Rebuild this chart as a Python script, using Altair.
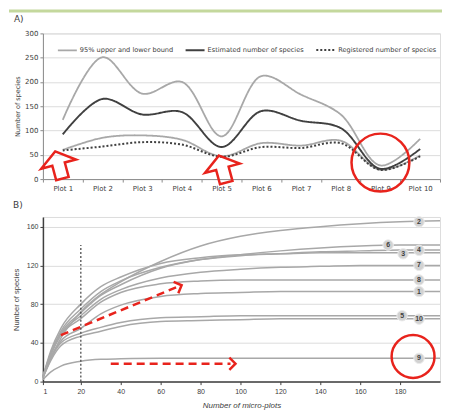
import altair as alt
import pandas as pd

# ---------------- Panel A data ----------------
plots = ["Plot 1", "Plot 2", "Plot 3", "Plot 4", "Plot 5",
         "Plot 6", "Plot 7", "Plot 8", "Plot 9", "Plot 10"]
upper = [122, 251, 176, 200, 88, 212, 174, 133, 28, 83]
estimated = [92, 165, 133, 138, 66, 140, 120, 105, 21, 62]
lower = [60, 85, 90, 81, 47, 74, 69, 79, 19, 49]
registered = [59, 67, 76, 71, 46, 66, 64, 74, 19, 47]
kinds = ["95% upper and lower bound", "Estimated number of species",
         "Registered number of species"]

# ---------------- Panel B data ----------------
micro_x = [1, 5, 10, 20, 30, 40, 60, 80, 100, 120, 140, 160, 180, 200]
curve_1 = [5, 25, 42, 55, 70, 79, 88, 91, 92, 93, 93, 93, 93, 93]
curve_2 = [4, 24, 45, 72, 90, 103, 124, 140, 150, 156, 160, 163, 165, 166]
curve_3 = [5, 32, 55, 80, 98, 108, 122, 128, 131, 132, 133, 133, 133, 133]
curve_4 = [5, 30, 52, 75, 93, 104, 118, 126, 130, 132, 134, 135, 136, 136]
curve_5 = [4, 24, 40, 50, 56, 61, 66, 67, 68, 68, 68, 68, 68, 68]
curve_6 = [5, 28, 50, 71, 89, 100, 117, 126, 131, 135, 138, 140, 141, 141]
curve_7 = [5, 28, 49, 68, 85, 95, 107, 113, 116, 118, 119, 120, 120, 120]
curve_8 = [5, 28, 48, 65, 82, 92, 101, 104, 105, 105, 105, 105, 105, 105]
curve_9 = [2, 10, 16, 21, 23, 23.5, 24, 24, 24, 24, 24, 24, 24, 24]
curve_10 = [4, 22, 37, 47, 52, 57, 62, 63, 64, 65, 65, 65, 65, 65]
curves = {"1": curve_1, "2": curve_2, "3": curve_3, "4": curve_4, "5": curve_5,
          "6": curve_6, "7": curve_7, "8": curve_8, "9": curve_9, "10": curve_10}

label_names = ["2", "6", "4", "3", "7", "8", "1", "5", "10", "9"]
label_x = [189.5, 174, 189.5, 181.5, 189.5, 189.5, 189.5, 181, 189.5, 189.5]
label_y = [165, 141, 135.5, 132, 120, 105, 93, 68, 64.5, 24]

x_ticks_b = [1, 20, 40, 60, 80, 100, 120, 140, 160, 180]
y_ticks_b = [0, 40, 80, 120, 160]
y_ticks_a = [0, 50, 100, 150, 200, 250, 300]

RED = "#e8231c"
FONT_A = "DejaVu Sans"
FONT_B = "Liberation Sans"
BLOCK_ARROW = "M 0 -0.78 L 1 -0.05 L 0.36 -0.05 L 0.36 0.78 L -0.36 0.78 L -0.36 -0.05 L -1 -0.05 Z"
CHEVRON = "M -1 -1 L 0 0 L -1 1"

# ---------------- Panel A ----------------
rows = []
for i, p in enumerate(plots):
    rows.append({"plot": p, "value": upper[i], "series": "upper", "kind": kinds[0]})
    rows.append({"plot": p, "value": lower[i], "series": "lower", "kind": kinds[0]})
    rows.append({"plot": p, "value": estimated[i], "series": "est", "kind": kinds[1]})
    rows.append({"plot": p, "value": registered[i], "series": "reg", "kind": kinds[2]})
top_df = pd.DataFrame(rows)

x_a = alt.X("plot:N", sort=plots,
            scale=alt.Scale(type="band", domain=plots, paddingInner=0, paddingOuter=0),
            axis=alt.Axis(title=None, labelAngle=0, tickBand="extent", grid=False,
                          domainColor="#8c8c8c", tickColor="#8c8c8c", tickSize=3,
                          labelFont=FONT_A, labelFontSize=7, labelColor="#404040",
                          labelPadding=2))
y_a = alt.Y("value:Q", scale=alt.Scale(domain=[0, 300], nice=False),
            axis=alt.Axis(values=y_ticks_a, tickCount=10, title="Number of species",
                          grid=True, gridColor="#dcdcdc", domainColor="#8c8c8c",
                          tickColor="#8c8c8c", tickSize=3, labelFont=FONT_A,
                          labelFontSize=7, labelOverlap=False,
                          labelColor="#404040", labelPadding=2, titleFont=FONT_A,
                          titleFontSize=6.5, titleFontWeight="normal",
                          titleColor="#404040", titlePadding=4))

leg = alt.Legend(title=None, orient="none", legendX=14, legendY=6, direction="horizontal",
                 symbolType="stroke", symbolSize=361, symbolStrokeWidth=2,
                 labelFont=FONT_A, labelFontSize=6.6, labelColor="#404040", labelLimit=300,
                 columnPadding=8, labelOffset=2, padding=0)

lines_a = alt.Chart(top_df).mark_line(interpolate="catmull-rom").encode(
    x=x_a, y=y_a,
    color=alt.Color("kind:N", scale=alt.Scale(domain=kinds,
                    range=["#a8a8a8", "#404040", "#404040"]), legend=leg),
    strokeDash=alt.StrokeDash("kind:N", scale=alt.Scale(domain=kinds,
                              range=[[1, 0], [1, 0], [2, 2]]), legend=leg),
    strokeWidth=alt.StrokeWidth("kind:N", scale=alt.Scale(domain=kinds,
                                range=[1.8, 2.0, 1.8]), legend=None),
    detail="series:N",
)

circle_a = alt.Chart(pd.DataFrame({"plot": ["Plot 9"], "value": [34]})).mark_point(
    shape="circle", filled=False, color=RED, strokeWidth=2.5, size=3364, opacity=1
).encode(x=alt.X("plot:N", sort=plots), y="value:Q")

arrows_df = pd.DataFrame({"plot": ["Plot 1", "Plot 5"], "value": [29, 20.5]})
arrow_a1 = alt.Chart(arrows_df).transform_filter(alt.datum.plot == "Plot 1").mark_point(
    shape=BLOCK_ARROW, filled=False, color=RED, strokeWidth=2.5, size=1296, opacity=1,
    angle=345, xOffset=-4
).encode(x=alt.X("plot:N", sort=plots), y="value:Q")
arrow_a2 = alt.Chart(arrows_df).transform_filter(alt.datum.plot == "Plot 5").mark_point(
    shape=BLOCK_ARROW, filled=False, color=RED, strokeWidth=2.5, size=1296, opacity=1,
    angle=345, xOffset=1
).encode(x=alt.X("plot:N", sort=plots), y="value:Q")

one = alt.Data(values=[{}])
band = alt.Chart(one).mark_rect(color="#c4d89d").encode(
    x=alt.value(-34), x2=alt.value(400), y=alt.value(-24), y2=alt.value(-21))
label_a = alt.Chart(one).mark_text(text="A)", font=FONT_A, fontSize=9, color="#404040",
                                    align="left", baseline="middle").encode(
    x=alt.value(-29), y=alt.value(-14))

top = alt.layer(band, label_a, lines_a, circle_a, arrow_a1, arrow_a2).properties(
    width=398, height=146)

# ---------------- Panel B ----------------
brows = []
for name, vals in curves.items():
    for xv, yv in zip(micro_x, vals):
        brows.append({"n": xv, "s": yv, "curve": name})
bot_df = pd.DataFrame(brows)

x_b = alt.X("n:Q", scale=alt.Scale(domain=[1, 200], nice=False, zero=False),
            axis=alt.Axis(values=x_ticks_b, tickCount=12, title="Number of micro-plots",
                          grid=False, domainColor="#404040", domainWidth=1.5,
                          tickColor="#404040", tickSize=3, labelFont=FONT_B,
                          labelFontSize=7, labelOverlap=False,
                          labelColor="#404040", labelPadding=3, titleFont=FONT_B,
                          titleFontSize=8, titleFontWeight="normal", titleFontStyle="italic",
                          titleColor="#404040", titlePadding=7))
y_b = alt.Y("s:Q", scale=alt.Scale(domain=[0, 170], nice=False),
            axis=alt.Axis(values=y_ticks_b, tickCount=10, title="Number of species",
                          grid=True, gridColor="#dcdcdc", domainColor="#404040",
                          domainWidth=1.5, tickColor="#404040", tickSize=3,
                          labelFont=FONT_B, labelFontSize=7, labelColor="#404040",
                          labelPadding=2, labelOverlap=False,
                          titleFont=FONT_B, titleFontSize=7.5, titleFontWeight="normal",
                          titleColor="#404040", titlePadding=6))

lines_b = alt.Chart(bot_df).mark_line(interpolate="monotone", color="#a8a8a8",
                                      strokeWidth=1.5).encode(x=x_b, y=y_b, detail="curve:N")

vline = alt.Chart(pd.DataFrame({"n": [20], "s": [0], "s2": [141]})).mark_rule(
    color="#404040", strokeDash=[2, 2], strokeWidth=1.2
).encode(x="n:Q", y="s:Q", y2="s2:Q")

arr_df = pd.DataFrame({"x1": [10, 35], "y1": [48, 18.5], "x2": [68, 95], "y2": [97.5, 18.5]})
arr_lines = alt.Chart(arr_df).mark_rule(color=RED, strokeDash=[8, 5], strokeWidth=2.5).encode(
    x="x1:Q", y="y1:Q", x2="x2:Q", y2="y2:Q")
head_df = pd.DataFrame({"n": [70.5, 97.5], "s": [99.5, 18.5], "ang": [337.4, 0]})
heads = alt.Chart(head_df).mark_point(
    shape=CHEVRON, filled=False, color=RED, strokeWidth=2.5, size=150, opacity=1
).encode(x="n:Q", y="s:Q", angle=alt.Angle("ang:Q", scale=None))

circle_b = alt.Chart(pd.DataFrame({"n": [186.5], "s": [26]})).mark_point(
    shape="circle", filled=False, color=RED, strokeWidth=2.5, size=1849, opacity=1
).encode(x="n:Q", y="s:Q")

lab_df = pd.DataFrame({"n": label_x, "s": label_y, "lab": label_names})
lab_dots = alt.Chart(lab_df).mark_circle(size=110, color="#d2d2d2", opacity=1,
                                         stroke="#ebebeb", strokeWidth=1).encode(
    x="n:Q", y="s:Q")
lab_text = alt.Chart(lab_df).mark_text(font=FONT_B, fontSize=7, fontWeight="bold",
                                       color="#404040", baseline="middle",
                                       align="center").encode(
    x="n:Q", y="s:Q", text="lab:N")

label_b = alt.Chart(one).mark_text(text="B)", font=FONT_A, fontSize=9, color="#404040",
                                    align="left", baseline="middle").encode(
    x=alt.value(-30), y=alt.value(-12))

bottom = alt.layer(label_b, lines_b, vline, arr_lines, heads, circle_b, lab_dots,
                   lab_text).properties(width=398, height=165)

chart = alt.vconcat(top, bottom, spacing=3).properties(
    padding={"left": 0, "top": 0, "right": 0, "bottom": 0}
).configure_view(stroke=None).configure(background="white")

chart.save("out.html", embed_options={"renderer": "svg", "actions": False})
